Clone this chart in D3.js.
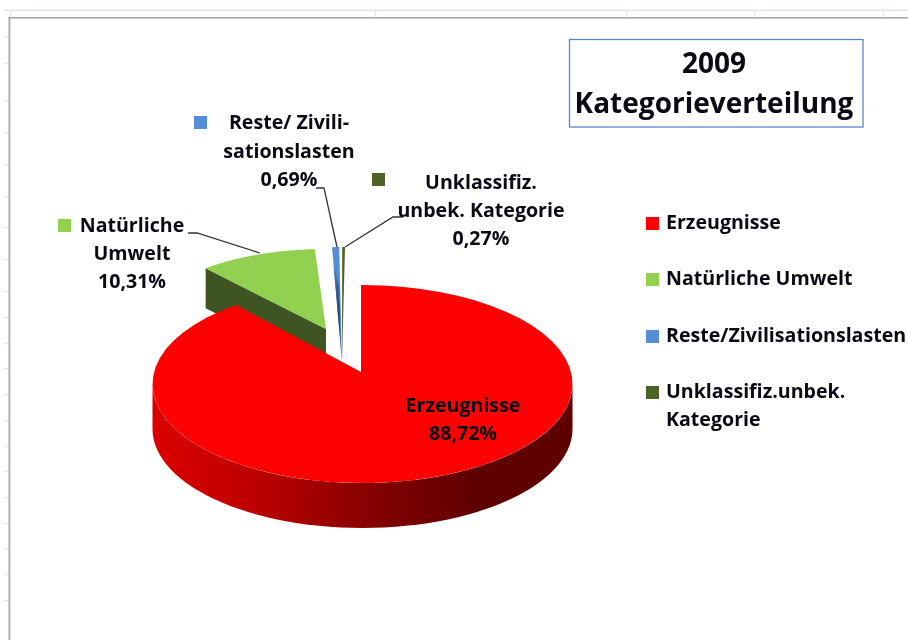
<!DOCTYPE html>
<html><head><meta charset="utf-8">
<script src="https://d3js.org/d3.v7.min.js"></script>
<style>html,body{margin:0;padding:0;background:#fff}svg{display:block;filter:blur(0.45px)}
text{font-family:"Open Sans",Lato,sans-serif;font-weight:700;fill:#0a0a14}</style>
</head><body><div id="c"></div>
<script>
const categories = ["Erzeugnisse","Natürliche Umwelt","Reste/Zivilisationslasten","Unklassifiz.unbek. Kategorie"];
const values = [88.72,10.31,0.69,0.27];
const percentLabels = ["88,72%","10,31%","0,69%","0,27%"];
const colors = ["#ff0000","#92d050","#558ed5","#4f6228"];
const sideColors = ["url(#redSide)","#3f5423","url(#blueSide)","#4f6228"];
const titleLines = ["2009","Kategorieverteilung"];

const W=908,H=640;
const svg=d3.select("#c").append("svg").attr("width",W).attr("height",H);
const defs=svg.append("defs");
const g1=defs.append("linearGradient").attr("id","redSide").attr("gradientUnits","userSpaceOnUse")
  .attr("x1",153).attr("x2",572).attr("y1",0).attr("y2",0);
[[0,"#dc0000"],[.25,"#bb0000"],[.55,"#800000"],[.78,"#5e0000"],[1,"#5e0000"]].forEach(s=>g1.append("stop").attr("offset",s[0]).attr("stop-color",s[1]));
const g2=defs.append("linearGradient").attr("id","blueSide").attr("x1",0).attr("x2",0).attr("y1",0).attr("y2",1);
[[0,"#4a7cbc"],[.5,"#24466f"],[1,"#4a6f9e"]].forEach(s=>g2.append("stop").attr("offset",s[0]).attr("stop-color",s[1]));

// window chrome of the spreadsheet behind the chart
const chrome=svg.append("g");
chrome.append("rect").attr("x",4).attr("y",9.5).attr("width",W).attr("height",1.5).attr("fill","#dfe3ef");
[10,375,626,754,883].forEach(x=>chrome.append("rect").attr("x",x).attr("y",10).attr("width",1).attr("height",8).attr("fill","#dfe3ef"));
[36,63,100,132,164,196,227,259,291,317,343,368,394,420,446,471,497,523,548,574,600].forEach(y=>
  chrome.append("rect").attr("x",4).attr("y",y).attr("width",5).attr("height",1.2).attr("fill","#dfe3ef"));
chrome.append("rect").attr("x",8.5).attr("y",17).attr("width",W).attr("height",1.6).attr("fill","#a8a8a8");
chrome.append("rect").attr("x",8.5).attr("y",17).attr("width",1.8).attr("height",H).attr("fill","#a8a8a8");

// pie angles
const pieGen=d3.pie().sort(null).value(d=>d).startAngle(0).endAngle(2*Math.PI);
const arcs=pieGen(values);

// projected geometry per slice: rim centre, apex, radii, thickness
const geo=[
 {cx:362.5,cy:384,ax:361,ay:372,rx:210,ry:99,depth:45,stretch:1.011},
 {cx:326,cy:329,ax:326,ay:329,rx:185,ry:80,depth:40,stretch:1},
 {cx:342,cy:362,ax:342,ay:362,rx:165,ry:115,depth:0,stretch:1},
 {cx:345,cy:362,ax:342,ay:362,rx:165,ry:115,depth:0,stretch:1}
];
const pt=(g,a)=>[g.cx+g.rx*Math.sin(a),g.cy-g.ry*Math.cos(a)];
const rim=(g,a0,a1)=>d3.range(0,61).map(i=>pt(g,a0+(a1-a0)*i/60));
const line=d3.line();
const pie=svg.append("g");

// red rim wall
{
 const g=geo[0];
 const top=rim(g,Math.PI/2,3*Math.PI/2);
 const bot=top.slice().reverse().map(p=>[p[0],p[1]+g.depth]);
 pie.append("path").attr("d",line(top.concat(bot))+"Z").attr("fill",sideColors[0]);
}
// green wedge: cut face, then top
{
 const g=geo[1],a=arcs[1];
 const c=pt(g,a.startAngle);
 pie.append("path").attr("d",line([c,[g.ax,g.ay],[g.ax,g.ay+g.depth],[c[0],c[1]+g.depth]])+"Z").attr("fill",sideColors[1]);
 pie.append("path").attr("d",line(rim(g,a.startAngle,a.endAngle).concat([[g.ax,g.ay]]))+"Z").attr("fill",colors[1]);
}
// thin wedges
{
 const g=geo[2],a=arcs[2];
 const l=pt(g,a.startAngle),r=pt(g,a.endAngle),ap=[g.ax,g.ay];
 pie.append("path").attr("d",line(rim(g,a.startAngle,a.endAngle).concat([ap]))+"Z").attr("fill",colors[2]);
 const t=k=>[l[0]+(ap[0]-l[0])*k,l[1]+(ap[1]-l[1])*k];
 const u=k=>[r[0]+(ap[0]-r[0])*k-1,r[1]+(ap[1]-r[1])*k];
 pie.append("path").attr("d",line([t(.15),ap,u(.75),u(.35)])+"Z").attr("fill",sideColors[2]);
 const go=geo[3],b=arcs[3];
 pie.append("path").attr("d",line(rim(go,b.startAngle,b.endAngle).concat([[go.ax,go.ay]]))+"Z").attr("fill",colors[3]);
}
// red top
{
 const g=geo[0],a=arcs[0];
 const pts=rim(g,a.startAngle,a.endAngle*g.stretch).concat([[g.ax,g.ay]]);
 pts[0]=[g.ax,pts[0][1]];
 pie.append("path").attr("d",line(pts)+"Z").attr("fill",colors[0]);
}

// leader lines
const leaders=[
 [[188,233],[197,233],[260,253]],
 [[316,188],[324,188],[337,247]],
 [[345,247],[393,217],[403,217]]
];
leaders.forEach(l=>svg.append("path").attr("d",line(l)).attr("fill","none").attr("stroke","#333").attr("stroke-width",1.3));

// data labels
const labelFont=19.6;
const dataLabels=[
 {i:0,x:463,ys:[412,440],lines:["Erzeugnisse"]},
 {i:1,x:132,ys:[232,260,288],lines:["Natürliche","Umwelt"]},
 {i:2,x:289,ys:[129,158,186],lines:["Reste/ Zivili-","sationslasten"]},
 {i:3,x:481,ys:[189,217,245],lines:["Unklassifiz.","unbek. Kategorie"]}
];
dataLabels.forEach(d=>{
 d.lines.concat([percentLabels[d.i]]).forEach((t,k)=>
  svg.append("text").attr("x",d.x).attr("y",d.ys[k]).attr("text-anchor","middle").attr("font-size",labelFont).text(t));
});
// markers next to labels
[[null],[58,219],[194,116],[372,173]].forEach((m,i)=>{ if(m[0]===null) return;
 svg.append("rect").attr("x",m[0]).attr("y",m[1]).attr("width",13).attr("height",13).attr("fill",colors[i]);
});

// legend
const legendY=[217,273,330,386];
const legendLines=[[categories[0]],[categories[1]],[categories[2]],["Unklassifiz.unbek.","Kategorie"]];
categories.forEach((c,i)=>{
 svg.append("rect").attr("x",646).attr("y",legendY[i]).attr("width",13).attr("height",13).attr("fill",colors[i]);
 legendLines[i].forEach((t,k)=>svg.append("text").attr("x",666).attr("y",legendY[i]+12+k*28).attr("font-size",labelFont).text(t));
});

// title box
svg.append("rect").attr("x",569.5).attr("y",39.5).attr("width",293.5).attr("height",87.5).attr("fill","#fff").attr("stroke","#5b86c4").attr("stroke-width",1.3);
titleLines.forEach((t,k)=>svg.append("text").attr("x",714).attr("y",[73,113][k]).attr("text-anchor","middle").attr("font-size",28).attr("fill","#000").text(t));
</script></body></html>
